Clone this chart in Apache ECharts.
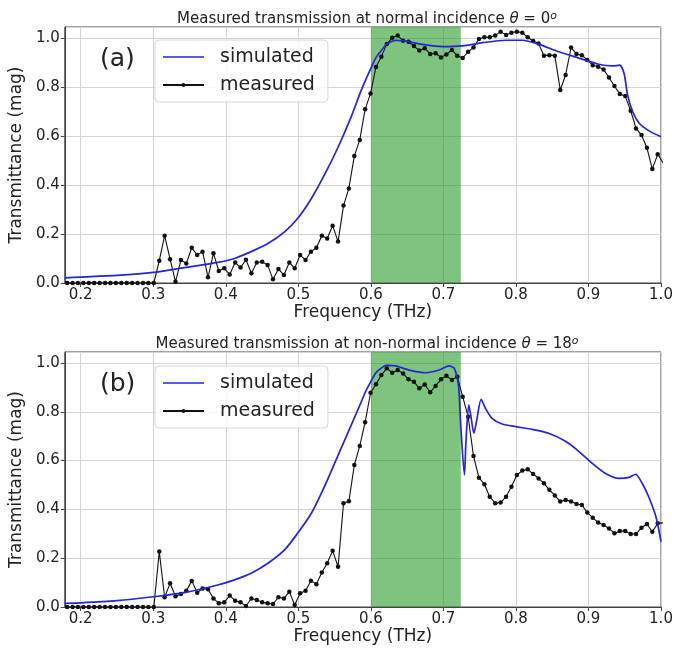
<!DOCTYPE html>
<html><head><meta charset="utf-8">
<script src="https://cdn.jsdelivr.net/npm/echarts@6/dist/echarts.min.js"></script>
<style>html,body{margin:0;padding:0;background:#fff}#c{width:676px;height:651px}</style>
</head><body><div id="c"></div>
<script>
// Measured sampling frequencies (THz)
const measFreq = [0.1813,0.1888,0.1962,0.2037,0.2112,0.2186,0.2261,0.2336,0.2410,0.2485,0.2560,0.2635,0.2709,0.2784,0.2859,0.2933,
0.3008,0.3083,0.3157,0.3232,0.3307,0.3382,0.3456,0.3531,0.3606,0.3680,0.3755,0.3830,0.3904,0.3979,0.4054,0.4129,0.4203,0.4278,0.4353,0.4427,
0.4502,0.4577,0.4651,0.4726,0.4801,0.4876,0.4950,0.5025,0.5100,0.5174,0.5249,0.5324,0.5398,0.5473,0.5548,0.5623,0.5697,0.5772,0.5847,0.5921,
0.5996,0.6071,0.6145,0.6220,0.6295,0.6370,0.6444,0.6519,0.6594,0.6668,0.6743,0.6818,0.6892,0.6967,0.7042,0.7117,0.7191,0.7266,0.7341,0.7415,
0.7490,0.7565,0.7639,0.7714,0.7789,0.7864,0.7938,0.8013,0.8088,0.8162,0.8237,0.8312,0.8386,0.8461,0.8536,0.8611,0.8685,0.8760,0.8835,0.8909,
0.8984,0.9059,0.9133,0.9208,0.9283,0.9358,0.9432,0.9507,0.9582,0.9656,0.9731,0.9806,0.9880,0.9955,1.0030];
// (a) normal incidence, measured
const measA = [0,0,0,0,0,0,0,0,0,0,0,0,0,0,0,0,
0.0,0.091,0.193,0.097,0.005,0.094,0.080,0.144,0.114,0.128,
0.023,0.121,0.049,0.060,0.035,0.084,0.063,0.095,0.040,0.084,
0.087,0.073,0.015,0.057,0.033,0.084,0.060,0.114,0.094,0.128,
0.144,0.193,0.182,0.234,0.169,0.316,0.386,0.518,0.584,0.709,
0.774,0.882,0.924,0.976,1.001,1.010,0.989,0.985,0.967,0.949,
0.958,0.935,0.938,0.921,0.933,0.951,0.928,0.918,0.944,0.961,
0.996,1.003,1.003,1.010,1.026,1.012,1.022,1.026,1.022,1.003,
0.988,0.978,0.928,0.930,0.928,0.788,0.849,0.961,0.935,0.930,
0.910,0.889,0.883,0.872,0.839,0.804,0.771,0.763,0.703,0.631,
0.604,0.552,0.465,0.526,0.490];
// (b) non-normal incidence, measured
const measB = [0,0,0,0,0,0,0,0,0,0,0,0,0,0,0,0,
0.0,0.227,0.040,0.097,0.044,0.053,0.067,0.107,0.058,0.076,
0.073,0.035,0.015,0.019,0.047,0.026,0.019,0.004,0.035,0.029,
0.019,0.015,0.012,0.040,0.035,0.063,0.008,0.056,0.067,0.108,
0.093,0.141,0.179,0.231,0.165,0.425,0.433,0.582,0.660,0.757,
0.878,0.913,0.951,0.978,0.960,0.971,0.957,0.933,0.923,0.896,
0.912,0.880,0.906,0.933,0.948,0.930,0.944,0.862,0.780,0.619,
0.530,0.503,0.452,0.425,0.428,0.452,0.493,0.541,0.559,0.564,
0.545,0.527,0.507,0.480,0.457,0.432,0.439,0.432,0.422,0.418,
0.387,0.366,0.346,0.336,0.322,0.302,0.311,0.311,0.299,0.299,
0.325,0.340,0.308,0.343,0.345];
// (a) simulated
const simFreqA = [0.178,0.20,0.25,0.30,0.343,0.389,0.412,0.435,0.458,0.481,0.499,0.518,0.536,0.554,0.572,0.586,0.593,0.600,0.607,0.614,0.621,0.634,0.648,0.671,0.699,0.726,0.754,0.786,0.809,0.832,0.859,0.887,0.914,0.933,0.943,0.949,0.954,0.961,0.970,0.984,1.000];
const simA = [0.021,0.024,0.031,0.043,0.063,0.084,0.100,0.128,0.161,0.209,0.263,0.345,0.441,0.549,0.672,0.781,0.830,0.876,0.920,0.948,0.972,0.990,0.987,0.974,0.965,0.968,0.981,0.991,0.991,0.974,0.944,0.918,0.893,0.886,0.889,0.856,0.767,0.699,0.652,0.620,0.597];
// (b) simulated
const simFreqB = [0.178,0.20,0.25,0.30,0.343,0.389,0.412,0.435,0.458,0.481,0.499,0.518,0.536,0.554,0.572,0.586,0.593,0.600,0.607,0.614,0.621,0.634,0.653,0.676,0.694,0.708,0.715,0.721,0.724,0.729,0.731,0.735,0.738,0.742,0.746,0.752,0.758,0.767,0.781,0.800,0.822,0.845,0.869,0.887,0.905,0.923,0.942,0.956,0.965,0.974,0.983,0.993,1.000];
const simB = [0.015,0.017,0.026,0.042,0.059,0.090,0.111,0.138,0.179,0.234,0.302,0.384,0.493,0.616,0.739,0.835,0.885,0.924,0.960,0.978,0.990,0.988,0.971,0.960,0.971,0.988,0.978,0.903,0.739,0.541,0.671,0.828,0.780,0.712,0.766,0.851,0.814,0.773,0.750,0.739,0.728,0.712,0.678,0.637,0.589,0.548,0.527,0.531,0.544,0.507,0.452,0.370,0.268];
// highlighted band (THz)
const band = [0.6, 0.724];
const xRange = [0.178, 1.0];
const yRange = [0, 1.045];
const titles = ['Measured transmission at normal incidence {it|θ} = 0{sup|o}',
                'Measured transmission at non-normal incidence {it|θ} = 18{sup|o}'];
const panelTags = ['(a)', '(b)'];

const FONT = 'DejaVu Sans';
const TXT = '#222';
const BLUE = '#2424dc';
const zip = (xs, ys) => xs.map((x, i) => [x, ys[i]]);

const gridTops = [27, 352];
const gridHeights = [256, 255];

function xAxisCfg(i) {
  return {
    type: 'value', gridIndex: i, min: xRange[0], max: xRange[1], splitNumber: 8,
    name: 'Frequency (THz)', nameLocation: 'middle', nameGap: 21,
    nameTextStyle: {fontFamily: FONT, fontSize: 17, color: TXT},
    axisLine: {show: true, onZero: false, lineStyle: {color: '#444', width: 1}},
    axisTick: {show: true, length: 4, lineStyle: {color: '#444'}},
    axisLabel: {fontFamily: FONT, fontSize: 15, color: TXT, margin: 5, showMinLabel: false,
      formatter: v => v.toFixed(1)},
    splitLine: {show: true, lineStyle: {color: '#d4d4d4', width: 1}}
  };
}
function yAxisCfg(i) {
  return {
    type: 'value', gridIndex: i, min: yRange[0], max: yRange[1], interval: 0.2,
    name: 'Transmittance (mag)', nameLocation: 'middle', nameGap: 36,
    nameTextStyle: {fontFamily: FONT, fontSize: 17, color: TXT},
    axisLine: {show: true, lineStyle: {color: '#444', width: 1}},
    axisTick: {show: true, length: 4, lineStyle: {color: '#444'}},
    axisLabel: {fontFamily: FONT, fontSize: 15, color: TXT, margin: 5, showMaxLabel: false,
      formatter: v => v.toFixed(1)},
    splitLine: {show: true, lineStyle: {color: '#d4d4d4', width: 1}}
  };
}
function legendCfg(top) {
  return {
    orient: 'vertical', left: 155, top: top,
    data: [{name: 'simulated', icon: 'path://M0,0 L41,0 L41,1.7 L0,1.7 Z', itemStyle: {color: BLUE}}, 'measured'],
    itemWidth: 41, itemHeight: 5, itemGap: 8, padding: [7, 13, 7, 7],
    backgroundColor: 'rgba(255,255,255,0.85)', borderColor: '#d8d8d8', borderWidth: 1, borderRadius: 4,
    textStyle: {fontFamily: FONT, fontSize: 19, color: TXT, lineHeight: 20, padding: [0, 0, 0, 11]}
  };
}
function seriesFor(i, simX, simY, measY) {
  return [
    {
      name: 'simulated', type: 'line', xAxisIndex: i, yAxisIndex: i,
      data: zip(simX, simY), symbol: 'none', smooth: 0.25, z: 4,
      lineStyle: {color: BLUE, width: 1.7}, itemStyle: {color: BLUE},
      markArea: {silent: true, itemStyle: {color: 'rgba(20,145,20,0.55)'},
        data: [[{xAxis: band[0]}, {xAxis: band[1]}]]}
    },
    {
      name: 'measured', type: 'line', xAxisIndex: i, yAxisIndex: i,
      data: zip(measFreq, measY), symbol: 'circle', symbolSize: 4.5, showAllSymbol: true, z: 3,
      lineStyle: {color: '#111', width: 1.1}, itemStyle: {color: '#111'}, clip: true
    }
  ];
}

const chart = echarts.init(document.getElementById('c'), null, {renderer: 'canvas'});
const titleRich = {it: {fontStyle: 'italic', fontFamily: FONT, fontSize: 15, color: TXT},
                   sup: {fontStyle: 'italic', fontFamily: FONT, fontSize: 11, color: TXT, verticalAlign: 'top', padding: [0, 0, 6, 0]}};
chart.setOption({
  backgroundColor: '#fff',
  animation: false,
  title: [
    {text: titles[0], left: 362, top: 6, textAlign: 'center', textStyle: {fontFamily: FONT, fontSize: 15, fontWeight: 'normal', color: TXT, rich: titleRich}},
    {text: titles[1], left: 362, top: 331, textAlign: 'center', textStyle: {fontFamily: FONT, fontSize: 15, fontWeight: 'normal', color: TXT, rich: titleRich}},
    {text: panelTags[0], left: 95, top: 42, textStyle: {fontFamily: FONT, fontSize: 25, fontWeight: 'normal', color: TXT}},
    {text: panelTags[1], left: 95, top: 367, textStyle: {fontFamily: FONT, fontSize: 25, fontWeight: 'normal', color: TXT}}
  ],
  legend: [legendCfg(40), legendCfg(366)],
  grid: [0, 1].map(i => ({left: 63, top: gridTops[i], width: 598, height: gridHeights[i],
    show: true, borderColor: '#444', borderWidth: 1, backgroundColor: '#fff', containLabel: false})),
  xAxis: [xAxisCfg(0), xAxisCfg(1)],
  yAxis: [yAxisCfg(0), yAxisCfg(1)],
  series: [...seriesFor(0, simFreqA, simA, measA), ...seriesFor(1, simFreqB, simB, measB)]
});
</script>
</body></html>
